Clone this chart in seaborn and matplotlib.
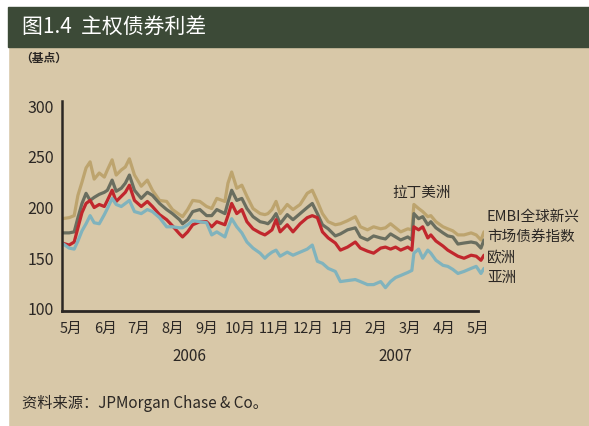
import matplotlib.pyplot as plt
import numpy as np
import pandas as pd
import seaborn as sns
from matplotlib.patches import Rectangle

# months since late April 2006
months = [0.00, 0.21, 0.36, 0.47, 0.59, 0.71, 0.83, 0.95, 1.10, 1.25,
          1.34, 1.48, 1.60, 1.75, 1.87, 1.99, 2.14, 2.34, 2.52, 2.67,
          2.88, 3.09, 3.26, 3.47, 3.56, 3.71, 3.86, 4.07, 4.27, 4.42,
          4.57, 4.81, 4.90, 5.01, 5.16, 5.31, 5.46, 5.64, 5.85, 5.99,
          6.08, 6.20, 6.32, 6.44, 6.65, 6.82, 7.03, 7.24, 7.39, 7.54,
          7.69, 7.86, 8.07, 8.22, 8.43, 8.66, 8.81, 9.02, 9.20, 9.41,
          9.55, 9.70, 9.85, 10.00, 10.21, 10.33, 10.39, 10.53, 10.65, 10.80,
          10.89, 11.04, 11.25, 11.39, 11.54, 11.69, 11.87, 12.08, 12.23, 12.37,
          12.46]

latam = [189, 190, 192, 212, 225, 239, 245, 228, 234, 230,
         237, 247, 232, 237, 240, 248, 232, 221, 227, 217,
         207, 206, 198, 193, 191, 198, 207, 206, 201, 199,
         209, 206, 224, 235, 219, 222, 211, 199, 194, 193,
         194, 198, 206, 194, 203, 198, 203, 214, 217, 206,
         194, 186, 183, 184, 187, 191, 181, 178, 181, 179,
         180, 184, 180, 176, 179, 178, 203, 199, 196, 191,
         192, 186, 181, 179, 177, 173, 173, 175, 173, 168,
         176]

embi = [175, 175, 176, 190, 204, 214, 207, 210, 213, 215,
        217, 227, 216, 219, 224, 232, 217, 209, 215, 212,
        204, 198, 194, 188, 184, 188, 196, 198, 192, 192,
        198, 194, 205, 217, 207, 209, 199, 191, 186, 185,
        184, 188, 194, 184, 193, 188, 194, 200, 204, 194,
        183, 179, 172, 174, 178, 180, 171, 168, 172, 170,
        169, 174, 171, 168, 171, 168, 194, 189, 191, 183,
        186, 180, 175, 172, 171, 164, 165, 166, 165, 160,
        168]

europe = [165, 163, 166, 180, 195, 204, 207, 200, 203, 201,
          207, 217, 206, 211, 215, 222, 207, 201, 206, 201,
          193, 188, 182, 174, 171, 176, 183, 186, 186, 181,
          186, 183, 192, 204, 194, 198, 186, 179, 175, 173,
          175, 178, 188, 176, 183, 176, 184, 190, 192, 190,
          176, 170, 165, 158, 161, 166, 160, 157, 155, 160,
          161, 159, 161, 158, 161, 158, 181, 178, 181, 170,
          173, 167, 162, 158, 155, 152, 150, 153, 152, 148,
          153]

asia = [165, 160, 159, 167, 177, 184, 192, 185, 184, 193,
        199, 209, 203, 201, 204, 207, 196, 194, 198, 196,
        190, 181, 181, 180, 180, 183, 187, 186, 185, 173,
        176, 171, 180, 189, 181, 175, 166, 160, 155, 150,
        153, 156, 158, 152, 156, 153, 156, 159, 163, 147,
        145, 140, 137, 127, 128, 129, 127, 124, 124, 127,
        121, 127, 131, 133, 136, 138, 155, 159, 150, 158,
        155, 148, 143, 142, 139, 135, 137, 140, 142, 135,
        140]

month_labels = ['5月', '6月', '7月', '8月', '9月', '10月', '11月', '12月',
                '1月', '2月', '3月', '4月', '5月']
year_labels = ['2006', '2007']

df = pd.concat([
    pd.DataFrame({'month': months, 'spread': latam, 'series': 'latam'}),
    pd.DataFrame({'month': months, 'spread': embi, 'series': 'embi'}),
    pd.DataFrame({'month': months, 'spread': europe, 'series': 'europe'}),
    pd.DataFrame({'month': months, 'spread': asia, 'series': 'asia'}),
])
palette = {'latam': '#BDA46E', 'embi': '#6A6E5F', 'europe': '#C1272D', 'asia': '#80B3BD'}

sns.set_theme(style='white')
plt.rcParams['font.family'] = ['Noto Sans CJK SC', 'DejaVu Sans']

W, H = 589, 426
bg = '#D8C8A8'
ink = '#2B2724'

fig = plt.figure(figsize=(W / 100, H / 100), dpi=100)
fig.patch.set_facecolor(bg)

# white page margin and dark title band
fig.patches.append(Rectangle((0, 0), 8 / W, 1, transform=fig.transFigure, color='white', zorder=0))
fig.patches.append(Rectangle((0, 1 - 7 / H), 1, 7 / H, transform=fig.transFigure, color='white', zorder=0))
fig.patches.append(Rectangle((8 / W, 1 - 47 / H), 1 - 8 / W, 40 / H, transform=fig.transFigure,
                             color='#3C4A37', zorder=1))
fig.text(22 / W, 1 - 27 / H, '图1.4  主权债券利差', color='white', fontsize=15, va='center', ha='left')
fig.text(20 / W, 1 - 58 / H, '（基点）', color=ink, fontsize=8.5, fontweight='bold', va='center')

ax = fig.add_axes([62 / W, 1 - 311 / H, (484 - 62) / W, (311 - 101) / H])
ax.set_facecolor('none')

sns.lineplot(data=df, x='month', y='spread', hue='series', palette=palette, linewidth=2.3,
             sort=False, estimator=None, legend=False, ax=ax)

ax.set_xlim(0, 12.46)
ax.set_ylim(98, 305)
ax.set_xlabel('')
ax.set_ylabel('')
ax.set_yticks([100, 150, 200, 250, 300])
ax.set_xticks(np.arange(13) + 0.27)
ax.set_xticklabels(month_labels)
ax.tick_params(axis='y', length=0, pad=6, labelsize=11.5, labelcolor=ink)
ax.tick_params(axis='x', length=0, pad=8, labelsize=10.5, labelcolor=ink)
for s in ['top', 'right']:
    ax.spines[s].set_visible(False)
ax.spines['left'].set_linewidth(1.8)
ax.spines['left'].set_color(ink)
ax.spines['bottom'].set_linewidth(2.0)
ax.spines['bottom'].set_color(ink)
ax.spines['bottom'].set_bounds(0, 12.28)

for lab, xm in zip(year_labels, [3.77, 9.85]):
    ax.text(xm, -0.215, lab, transform=ax.get_xaxis_transform(), ha='center', va='center',
            fontsize=11, color=ink)

fig.text(392 / W, 1 - 193 / H, '拉丁美洲', fontsize=10.5, color=ink, va='center')
fig.text(487 / W, 1 - 217 / H, 'EMBI全球新兴', fontsize=10.5, color=ink, va='center')
fig.text(487 / W, 1 - 237 / H, '市场债券指数', fontsize=10.5, color=ink, va='center')
fig.text(487 / W, 1 - 258 / H, '欧洲', fontsize=10.5, color=ink, va='center')
fig.text(487 / W, 1 - 278 / H, '亚洲', fontsize=10.5, color=ink, va='center')

fig.text(22 / W, 1 - 403 / H, '资料来源：JPMorgan Chase & Co。', fontsize=11, color=ink, va='center')

fig.savefig('out.png', dpi=100, facecolor=fig.get_facecolor())
